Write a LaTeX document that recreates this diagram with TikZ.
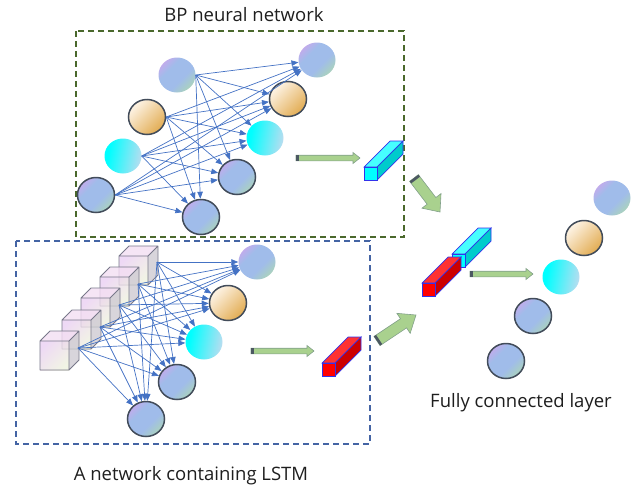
\documentclass[tikz,border=0pt]{standalone}
\usepackage{fontspec}
\setmainfont{Open Sans}
\usetikzlibrary{arrows.meta,calc,shapes.geometric}

% palette
\definecolor{gpurple}{RGB}{205,166,236}
\definecolor{gblue}{RGB}{160,188,234}
\definecolor{ggreen}{RGB}{172,214,182}
\definecolor{olight}{RGB}{252,240,222}
\definecolor{odark}{RGB}{226,172,82}
\definecolor{cyanleft}{RGB}{0,255,255}
\definecolor{cyanright}{RGB}{184,221,240}
\definecolor{ringcol}{RGB}{66,76,90}
\definecolor{linkblue}{RGB}{68,114,196}
\definecolor{bpgreen}{RGB}{74,104,44}
\definecolor{lstmblue}{RGB}{68,100,164}
\definecolor{fatgreen}{RGB}{169,209,142}
\definecolor{fatedge}{RGB}{130,160,138}
\definecolor{capgray}{RGB}{76,88,98}
\definecolor{baredge}{RGB}{50,50,235}
\definecolor{cyanfront}{RGB}{0,255,255}
\definecolor{cyantop}{RGB}{70,255,255}
\definecolor{cyanside}{RGB}{0,204,204}
\definecolor{redfront}{RGB}{255,0,0}
\definecolor{redtop}{RGB}{255,50,50}
\definecolor{redside}{RGB}{204,0,0}
\definecolor{cubepink}{RGB}{234,208,242}
\definecolor{cubecream}{RGB}{238,241,222}
\definecolor{cubetop}{RGB}{243,222,243}
\definecolor{cubeside}{RGB}{206,203,210}
\definecolor{cubeedge}{RGB}{120,120,138}
\definecolor{labeltext}{RGB}{30,30,30}

% gradients of the neurons and cube faces
\pgfdeclarehorizontalshading{tricolor}{100bp}{color(0bp)=(gpurple); color(20bp)=(gpurple); color(37bp)=(gblue); color(58bp)=(gblue); color(78bp)=(ggreen); color(100bp)=(ggreen)}
\pgfdeclarehorizontalshading{orangeshade}{100bp}{color(0bp)=(olight); color(28bp)=(olight); color(75bp)=(odark); color(100bp)=(odark)}
\pgfdeclarehorizontalshading{cyanshade}{100bp}{color(0bp)=(cyanleft); color(30bp)=(cyanleft); color(75bp)=(cyanright); color(100bp)=(cyanright)}
\pgfdeclarehorizontalshading{cubeshade}{100bp}{color(0bp)=(cubepink); color(25bp)=(cubepink); color(75bp)=(cubecream); color(100bp)=(cubecream)}

% rectangular bar with front, top and side faces (origin = front top-left)
\newcommand\barbody[3]{%
  \filldraw[fill=#2, draw=baredge, line width=0.7pt] (0,0) -- (26,-26) -- (39,-26) -- (13,0) -- cycle;
  \filldraw[fill=#3, draw=baredge, line width=0.7pt] (13,0) -- (39,-26) -- (39,-13) -- (13,13) -- cycle;
  \filldraw[fill=#1, draw=baredge, line width=0.7pt] (0,0) rectangle (13,13);
}

% block arrow from tail #1 to tip #2: half shaft #3, half head #4, head length #5
\newcommand\fatarrow[5]{%
  \path[fill=fatgreen, draw=fatedge, line width=0.6pt, line join=miter]
    ($(#1)!#3!90:(#2)$) -- ($(#2)!#5!(#1)!#3!-90:(#1)$) -- ($(#2)!#5!(#1)!#4!-90:(#1)$)
    -- (#2) -- ($(#2)!#5!(#1)!#4!90:(#1)$) -- ($(#2)!#5!(#1)!#3!90:(#1)$)
    -- ($(#1)!#3!-90:(#2)$) -- cycle;
  \draw[capgray, line width=2.6pt]
    ($(#1)!1.3pt!(#2)!#3!90:(#2)$) -- ($(#1)!1.3pt!(#2)!#3!-90:(#2)$);
}

\tikzset{
  nnode/.style={ellipse, minimum width=37pt, minimum height=35pt, inner sep=0pt},
  ring/.style={draw=ringcol, line width=1.5pt},
  gradnode/.style={nnode, shading=tricolor, shading angle=-45},
  orangenode/.style={nnode, shading=orangeshade, shading angle=-45, ring},
  cyannode/.style={nnode, shading=cyanshade, shading angle=-10},
  link/.style={draw=linkblue, line width=0.7pt, -{Triangle[length=7pt,width=5.5pt]}},
  bpframe/.style={draw=bpgreen, line width=1.4pt, dash pattern=on 6pt off 4pt},
  lstmframe/.style={draw=lstmblue, line width=1.4pt, dash pattern=on 6pt off 4pt},
  caption/.style={anchor=base, text=labeltext, font=\fontsize{18.5}{22}\selectfont, inner sep=0pt},
  cube/.pic={
    \fill[cubetop, fill opacity=0.8] (0,0) -- (10,-10) -- (39,-10) -- (29,0) -- cycle;
    \fill[cubeside, fill opacity=0.8] (29,0) -- (39,-10) -- (39,19) -- (29,29) -- cycle;
    \shade[shading=cubeshade, shading angle=-45, fill opacity=0.8] (0,0) rectangle (29,29);
    \draw[cubeedge, line width=0.8pt, line join=round]
      (0,0) -- (10,-10) -- (39,-10) -- (39,19) -- (29,29) -- (0,29) -- cycle
      (0,0) -- (29,0) -- (29,29) (29,0) -- (39,-10);
  },
  cyanbar/.pic={\barbody{cyanfront}{cyantop}{cyanside}},
  redbar/.pic={\barbody{redfront}{redtop}{redside}},
}

\begin{document}
\begin{tikzpicture}[x=1pt, y=-1pt]
\useasboundingbox (0,0) rectangle (637,485);

% frames and captions
\draw[bpframe] (76,31) rectangle (404,237);
\draw[lstmframe] (16,241) rectangle (370,444);
\node[caption] (bptitle) at (244,21) {BP neural network};
\node[caption] (lstmtitle) at (191,480) {A network containing LSTM};
\node[caption] (fctitle) at (521,407) {Fully connected layer};

% ---- BP network ----
\node[gradnode, ring] (bi1) at (96,195) {};
\node[cyannode] (bi2) at (123,156) {};
\node[orangenode] (bi3) at (147,117) {};
\node[gradnode] (bi4) at (177,75) {};

\node[gradnode] (bo1) at (317,60) {};
\node[orangenode] (bo2) at (288,99) {};
\node[cyannode] (bo3) at (265,138) {};
\node[gradnode, ring] (bo4) at (237,177) {};
\node[gradnode, ring] (bo5) at (201,217) {};

\foreach \s in {bi1,bi2,bi3,bi4}
  \foreach \t in {bo1,bo2,bo3,bo4,bo5}
    \draw[link] (\s.east) -- (\t);

% ---- LSTM network ----
\foreach \i/\x/\y in {5/119/256, 4/100/277, 3/81/298, 2/62/320, 1/40/341}
  \pic (cube\i) at (\x,\y) {cube};

\coordinate (ls1) at (78,348);
\coordinate (ls2) at (100,327);
\coordinate (ls3) at (119,305);
\coordinate (ls4) at (138,284);
\coordinate (ls5) at (157,262);

\node[gradnode] (lo1) at (257,262) {};
\node[orangenode] (lo2) at (228,303) {};
\node[cyannode] (lo3) at (204,342) {};
\node[gradnode, ring] (lo4) at (177,382) {};
\node[gradnode, ring] (lo5) at (146,419) {};

\foreach \s in {ls1,ls2,ls3,ls4,ls5}
  \foreach \t in {lo1,lo2,lo3,lo4,lo5}
    \draw[link] (\s) -- (\t);

% ---- feature bars ----
\pic (bpbar) at (364,167) {cyanbar};
\pic (lstmbar) at (322,363) {redbar};
\pic (mergecyan) at (452,254) {cyanbar};
\pic (mergered) at (422,283) {redbar};

% ---- block arrows ----
\coordinate (bpA) at (296,158);   \coordinate (bpB) at (360,158);
\coordinate (lsA) at (251,351);   \coordinate (lsB) at (314,351);
\coordinate (fcA) at (470,274);   \coordinate (fcB) at (533,274);
\coordinate (dnA) at (414,178);   \coordinate (dnB) at (440,212);
\coordinate (upA) at (377,341);   \coordinate (upB) at (416,315);
\fatarrow{bpA}{bpB}{2.8pt}{5.5pt}{7pt}
\fatarrow{lsA}{lsB}{2.8pt}{5.5pt}{7pt}
\fatarrow{fcA}{fcB}{2.8pt}{5.5pt}{7pt}
\fatarrow{dnA}{dnB}{5.5pt}{12pt}{14pt}
\fatarrow{upA}{upB}{5.5pt}{12pt}{15pt}

% ---- fully connected layer ----
\node[gradnode] (fc1) at (612,198) {};
\node[orangenode] (fc2) at (584,238) {};
\node[cyannode] (fc3) at (561,277) {};
\node[gradnode, ring] (fc4) at (533,316) {};
\node[gradnode, ring] (fc5) at (506,361) {};
\end{tikzpicture}
\end{document}
